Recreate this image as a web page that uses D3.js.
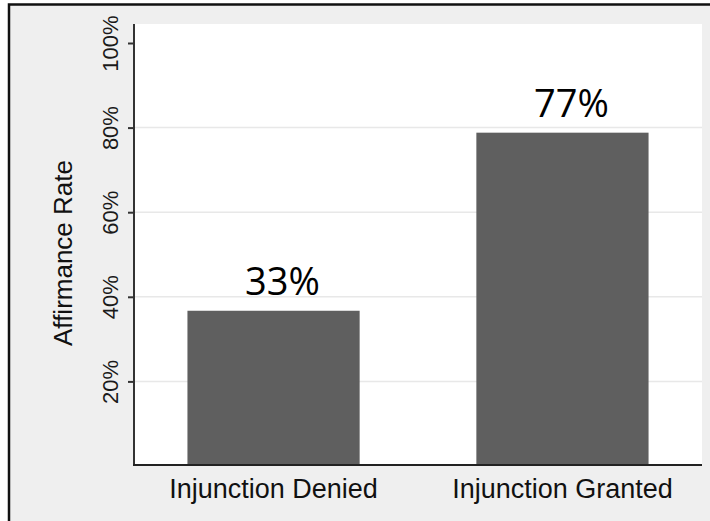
<!DOCTYPE html>
<html>
<head>
<meta charset="utf-8">
<script src="https://cdn.jsdelivr.net/npm/d3@7"></script>
<style>
  body { margin: 0; background: #fff; }
  text { font-family: "Liberation Sans", Arial, sans-serif; }
</style>
</head>
<body>
<div id="chart"></div>
<script>
// data
var categories = ["Injunction Denied", "Injunction Granted"];
var rates = [0.367, 0.788];           // bar heights as drawn
var rateLabels = ["33%", "77%"];      // labels printed above the bars
var yTicks = [0.2, 0.4, 0.6, 0.8, 1.0];
var gridTicks = [0.2, 0.4, 0.6, 0.8];

var W = 710, H = 521;
var svg = d3.select("#chart").append("svg")
  .attr("width", W).attr("height", H);

// grey panel with the cropped black frame (top and left only)
svg.append("rect")
  .attr("x", 9).attr("y", 4.5).attr("width", W).attr("height", H)
  .attr("fill", "#efefef")
  .attr("stroke", "#111").attr("stroke-width", 2.5);

var plot = {left: 134, right: 702, top: 24, bottom: 466};

var y = d3.scaleLinear().domain([0, 1]).range([plot.bottom, 43]);
var x = d3.scaleBand().domain(categories)
  .range([plot.left, plot.right])
  .paddingInner(0.404).paddingOuter(0.185);

// white plot region
svg.append("rect")
  .attr("x", plot.left).attr("y", plot.top)
  .attr("width", plot.right - plot.left).attr("height", plot.bottom - plot.top)
  .attr("fill", "#fff");

// gridlines
svg.selectAll(".grid").data(gridTicks).enter().append("line")
  .attr("class", "grid")
  .attr("x1", plot.left).attr("x2", plot.right)
  .attr("y1", function(d) { return y(d); })
  .attr("y2", function(d) { return y(d); })
  .attr("stroke", "#e8e8e8").attr("stroke-width", 1.5);

// bars
svg.selectAll(".bar").data(rates).enter().append("rect")
  .attr("class", "bar")
  .attr("x", function(d, i) { return x(categories[i]); })
  .attr("width", x.bandwidth())
  .attr("y", function(d) { return y(d); })
  .attr("height", function(d) { return y(0) - y(d); })
  .attr("fill", "#5f5f5f");

// value labels (pasted-on style, slightly right of centre)
svg.selectAll(".val").data(rates).enter().append("text")
  .attr("class", "val")
  .attr("x", function(d, i) { return x(categories[i]) + x.bandwidth() / 2 + 9; })
  .attr("y", function(d) { return y(d) - 16; })
  .attr("text-anchor", "middle")
  .style("font-family", "'Open Sans', sans-serif")
  .style("font-size", "38px")
  .attr("fill", "#000")
  .text(function(d, i) { return rateLabels[i]; });

// y axis
var yAxis = svg.append("g")
  .attr("transform", "translate(" + plot.left + ",0)")
  .call(d3.axisLeft(y).tickValues(yTicks).tickSize(6).tickFormat(d3.format(".0%")));
yAxis.select(".domain").attr("d", "M0," + plot.top + "V" + (plot.bottom - 1))
  .attr("stroke", "#333").attr("stroke-width", 2);
yAxis.selectAll(".tick line").attr("stroke", "#333").attr("stroke-width", 2);
yAxis.selectAll(".tick text")
  .attr("x", 0).attr("y", 0).attr("dy", 0)
  .attr("transform", "translate(-16,0) rotate(-90)")
  .attr("text-anchor", "middle")
  .style("font-size", "22px")
  .attr("fill", "#1a1a1a");

// x axis line
svg.append("line")
  .attr("x1", plot.left - 1).attr("x2", plot.right)
  .attr("y1", plot.bottom - 1).attr("y2", plot.bottom - 1)
  .attr("stroke", "#222").attr("stroke-width", 2);

// category labels
svg.selectAll(".cat").data(categories).enter().append("text")
  .attr("class", "cat")
  .attr("x", function(d) { return x(d) + x.bandwidth() / 2; })
  .attr("y", 498)
  .attr("text-anchor", "middle")
  .style("font-size", "27px")
  .attr("fill", "#111")
  .text(function(d) { return d; });

// y title
svg.append("text")
  .attr("transform", "translate(72,253) rotate(-90)")
  .attr("text-anchor", "middle")
  .style("font-size", "26px")
  .attr("fill", "#111")
  .text("Affirmance Rate");
</script>
</body>
</html>
